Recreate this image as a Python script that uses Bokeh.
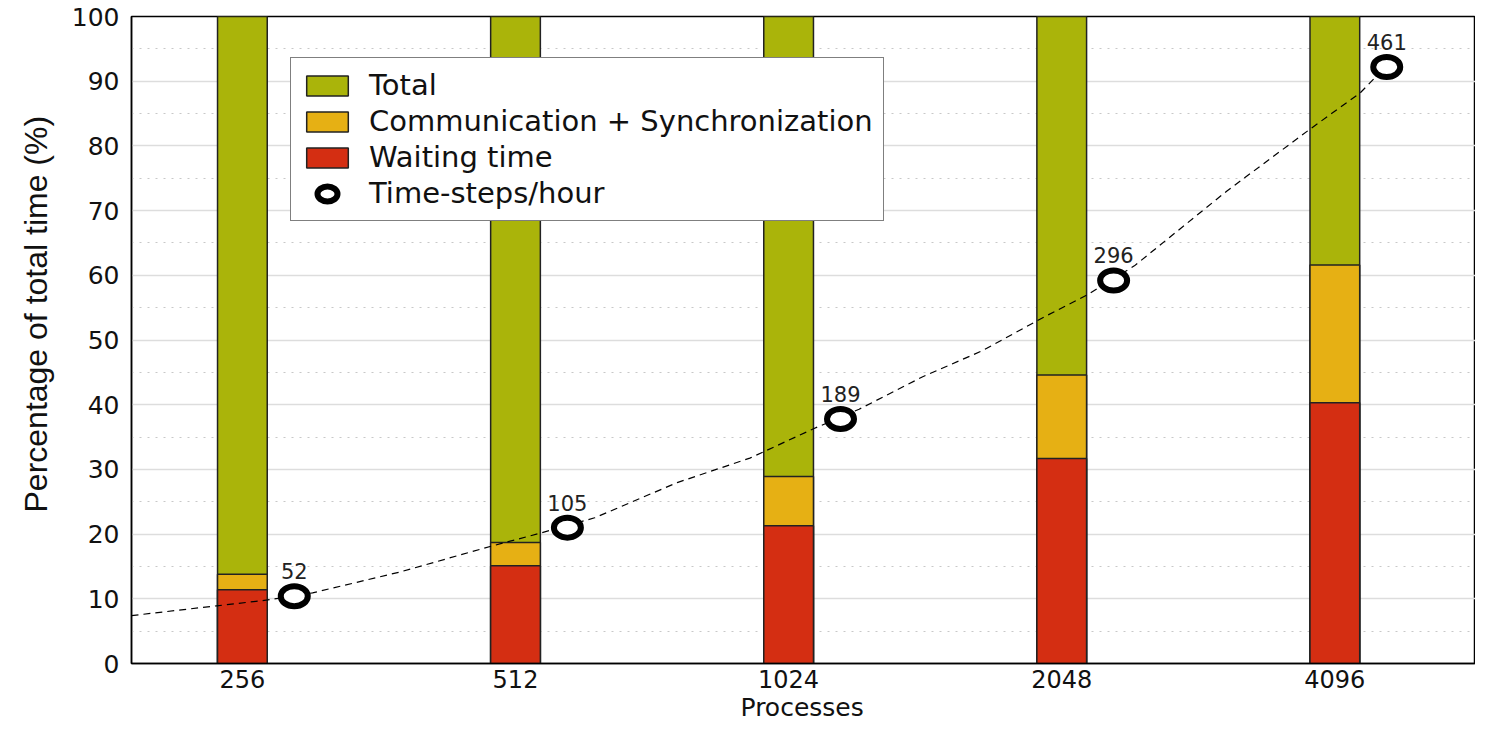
import numpy as np
from bokeh.plotting import figure
from bokeh.models import Range1d, FixedTicker, Legend, LegendItem, Title
from bokeh.core.properties import value
from bokeh.embed import file_html
from bokeh.resources import INLINE

# ---- data ----
processes = [256, 512, 1024, 2048, 4096]
tick_labels = ["256", "512", "1024", "2048", "4096"]
total_pct = [100, 100, 100, 100, 100]
comm_sync_pct = [13.8, 18.7, 28.9, 44.6, 61.6]      # stacked top (incl. waiting)
waiting_pct = [11.4, 15.1, 21.3, 31.7, 40.3]
timesteps_per_hour = [52, 105, 189, 296, 461]

# dashed trend curve (x in log2(processes), y in time-steps/hour)
trend_log2_procs = [7.594, 7.907, 8.093, 8.257, 8.573, 8.912, 9.083, 9.290, 9.592,
                    9.858, 10.091, 10.258, 10.491, 10.710, 10.939, 11.092, 11.266,
                    11.605, 11.910, 12.092, 12.150, 12.196]
trend_steps = [37.0, 44.6, 49.1, 54.6, 70.5, 90.7, 100.3, 112.6, 139.8, 158.7, 181.4,
               196.5, 221.6, 241.8, 268.2, 284.7, 307.3, 365.2, 413.1, 440.8, 453.4, 460.4]

# ---- styling constants ----
GREEN = "#aab40a"
ORANGE = "#e6b014"
RED = "#d42e12"
FONT = "DejaVu Sans"
BAR_W = 0.182
MARKER_SHIFT = 0.19
BORDER_BOTTOM = 64
FIG_H = 727

x = [float(np.log2(v)) for v in processes]
mx = [v + MARKER_SHIFT for v in x]

p = figure(width=1475, height=FIG_H, output_backend="svg", toolbar_location=None,
           x_range=Range1d(7.594, 12.515), y_range=Range1d(0, 100),
           min_border_left=131, min_border_right=0, min_border_top=16,
           min_border_bottom=BORDER_BOTTOM)
p.extra_y_ranges = {"steps": Range1d(0, 500)}

p.background_fill_color = "white"
p.outline_line_color = "black"
p.outline_line_width = 1.5

# axes
p.yaxis.ticker = FixedTicker(ticks=list(range(0, 101, 10)), minor_ticks=list(range(5, 100, 10)))
p.xaxis.ticker = FixedTicker(ticks=x)
p.xaxis.major_label_overrides = {int(round(v)): lab for v, lab in zip(x, tick_labels)}
for ax in (p.xaxis[0], p.yaxis[0]):
    ax.axis_line_color = "black"
    ax.axis_line_width = 1.5
    ax.major_tick_in = 0
    ax.major_tick_out = 0
    ax.minor_tick_in = 0
    ax.minor_tick_out = 0
    ax.major_label_text_font = FONT
    ax.major_label_text_color = "#111111"
p.yaxis.major_label_text_font_size = "25px"
p.xaxis.major_label_text_font_size = "24px"
p.yaxis.major_label_standoff = 12
p.xaxis.major_label_standoff = 6

# axis titles (placed as titles so they can be positioned like the reference)
ytitle = Title(text="Percentage of total time (%)", align="left", offset=151, standoff=30,
               text_font="Liberation Sans", text_font_size="32px",
               text_font_style="normal", text_color="#111111")
p.add_layout(ytitle, "left")
xtitle = Title(text="Processes", align="left", offset=609, standoff=0,
               text_font=FONT, text_font_size="25px",
               text_font_style="normal", text_color="#111111")
p.add_layout(xtitle, "below")

# grid
p.xgrid.grid_line_color = None
p.ygrid.grid_line_color = "#dddddd"
p.ygrid.grid_line_width = 1.5
p.ygrid.minor_grid_line_color = "#c8c8c8"
p.ygrid.minor_grid_line_width = 1.2
p.ygrid.minor_grid_line_dash = "2 6"

# bars
r_total = p.vbar(x=x, top=total_pct, bottom=0, width=BAR_W, fill_color=GREEN,
                 line_color="#222222", line_width=1.5)
r_comm = p.vbar(x=x, top=comm_sync_pct, bottom=0, width=BAR_W, fill_color=ORANGE,
                line_color="#222222", line_width=1.5)
r_wait = p.vbar(x=x, top=waiting_pct, bottom=0, width=BAR_W, fill_color=RED,
                line_color="#222222", line_width=1.5)

# trend line
p.line(x=trend_log2_procs, y=trend_steps, y_range_name="steps", line_color="black",
       line_width=1.2, line_dash="7 5")

# markers
r_mark = p.ellipse(x=mx, y=timesteps_per_hour, width=27, height=20, width_units="screen",
                   height_units="screen", y_range_name="steps", fill_color="white",
                   line_color="black", line_width=6)
p.text(x=mx, y=timesteps_per_hour, text=[str(v) for v in timesteps_per_hour],
       y_range_name="steps", y_offset=-25, text_align="center", text_baseline="middle",
       text_font=value(FONT), text_font_size="21px", text_color="#222222")

frame_bottom = FIG_H - BORDER_BOTTOM
legend = Legend(items=[
    LegendItem(label="Total", renderers=[r_total]),
    LegendItem(label="Communication + Synchronization", renderers=[r_comm]),
    LegendItem(label="Waiting time", renderers=[r_wait]),
    LegendItem(label="Time-steps/hour", renderers=[r_mark]),
], location=(159, frame_bottom - 221))
legend.label_text_font = FONT
legend.label_text_font_size = "29px"
legend.label_text_color = "#111111"
legend.glyph_width = 52
legend.glyph_height = 25
legend.label_height = 34
legend.spacing = 2
legend.padding = 10
legend.margin = 0
legend.label_standoff = 16
legend.border_line_color = "black"
legend.border_line_width = 1.5
legend.background_fill_color = "white"
legend.background_fill_alpha = 1.0
p.add_layout(legend, "center")

open("out.html", "w").write(file_html(p, INLINE))
